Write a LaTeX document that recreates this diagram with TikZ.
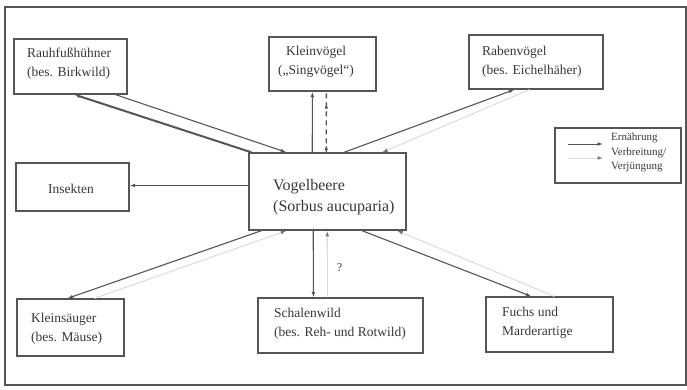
\documentclass[tikz,border=0pt]{standalone}
\usepackage{fontspec}
\setmainfont{Liberation Serif}
\usetikzlibrary{arrows.meta,decorations.markings}
\definecolor{ln}{HTML}{555555}
\definecolor{tx}{HTML}{383838}
\definecolor{fa}{HTML}{DDDDDD}
\begin{document}
\begin{tikzpicture}[x=1pt,y=-1pt,
  box/.style={draw=ln,line width=1.2pt,rectangle,inner sep=0pt},
  txt/.style={anchor=west,align=left,inner sep=0pt,text=tx,font=\fontsize{13.5}{19}\selectfont},
  tip/.style={-{Latex[length=5.5pt,width=3.8pt]}},
  ern/.style={draw=ln,line width=1.1pt,tip},
  ver/.style={draw=fa,line width=1.1pt,-{Latex[length=5.5pt,width=3.8pt,color=ln!80]}}]
\useasboundingbox (0,0) rectangle (687,389);
\draw[ln,line width=1.3pt] (5,7) rectangle (686,385);
% boxes
\node[box,minimum width=113pt,minimum height=55pt] (rh) at (70.5,66.5) {};
\node[box,minimum width=107pt,minimum height=54pt] (kv) at (322.5,64) {};
\node[box,minimum width=134pt,minimum height=54pt] (rb) at (536,62) {};
\node[box,minimum width=126pt,minimum height=55pt] (lg) at (618,155.5) {};
\node[box,minimum width=113pt,minimum height=48pt] (in) at (72.5,187) {};
\node[box,minimum width=157pt,minimum height=77pt,line width=1.5pt] (vb) at (327.5,191.5) {};
\node[box,minimum width=107pt,minimum height=57pt] (ks) at (70.5,327.5) {};
\node[box,minimum width=165pt,minimum height=55pt] (sw) at (340.5,325.5) {};
\node[box,minimum width=127pt,minimum height=55pt] (fu) at (549.5,324.5) {};
% texts
\node[txt] (trh) at (27,63.5) {Rauhfußhühner\\(bes. Birkwild)};
\node[txt,anchor=center,align=center] (tkv) at (316,61.5) {Kleinvögel\\(„Singvögel“)};
\node[txt] (trb) at (482,61.5) {Rabenvögel\\(bes. Eichelhäher)};
\node[txt,anchor=center] (tin) at (71,189) {Insekten};
\node[txt,font=\fontsize{16}{21}\selectfont] (tvb) at (273,197.5) {Vogelbeere\\(Sorbus aucuparia)};
\node[txt] (tks) at (31,328.5) {Kleinsäuger\\(bes. Mäuse)};
\node[txt] (tsw) at (274,323.5) {Schalenwild\\(bes. Reh- und Rotwild)};
\node[txt] (tfu) at (502,322.5) {Fuchs und\\Marderartige};
% legend
\coordinate (l1a) at (568,144); \coordinate (l1b) at (603,144);
\coordinate (l2a) at (568,158); \coordinate (l2b) at (603,158);
\draw[ern,line width=0.8pt] (l1a) -- (l1b);
\draw[ver,line width=0.8pt] (l2a) -- (l2b);
\node[txt,font=\fontsize{11}{14.5}\selectfont] (tlg) at (611,152.5) {Ernährung\\Verbreitung/\\Verjüngung};
% connectors
\draw[ern,line width=2pt] ([xshift=3pt]vb.north west) -- ([xshift=61pt]rh.south west);
\draw[ern] ([xshift=102pt]rh.south west) -- ([xshift=38pt]vb.north west);
\draw[ern] ([xshift=64pt]vb.north west) -- ([xshift=44pt]kv.south west);
\draw[draw=ln,line width=1.3pt,dash pattern=on 5pt off 4pt,
  postaction={decorate},
  decoration={markings,
    mark=at position 0.12 with {\arrow{Latex[length=5pt,width=3.6pt,color=ln]}},
    mark=at position 0.8 with {\arrow{Latex[length=5pt,width=3.6pt,color=ln]}}}]
  ([xshift=78pt]vb.north west) -- ([xshift=58pt]kv.south west);
\draw[ern] ([xshift=96pt]vb.north west) -- ([xshift=46pt]rb.south west);
\draw[ver] ([xshift=61pt]rb.south west) -- ([xshift=134pt]vb.north west);
\draw[ern] ([yshift=6pt]vb.west) -- ([yshift=1.5pt]in.east);
\draw[ern] ([xshift=13pt]vb.south west) -- ([xshift=51pt]ks.north west);
\draw[ver] ([xshift=78pt]ks.north west) -- ([xshift=38pt]vb.south west);
\draw[ern] ([xshift=65pt]vb.south west) -- ([xshift=56pt]sw.north west);
\draw[ver] ([xshift=70pt]sw.north west) -- ([xshift=79pt]vb.south west)
  node[pos=0.45,right=9pt,text=tx,inner sep=0pt,font=\fontsize{12}{14}\selectfont] (q) {?};
\draw[ern] ([xshift=114pt]vb.south west) -- ([xshift=46pt]fu.north west);
\draw[ver] ([xshift=69pt]fu.north west) -- ([xshift=149pt]vb.south west);
\end{tikzpicture}
\end{document}
